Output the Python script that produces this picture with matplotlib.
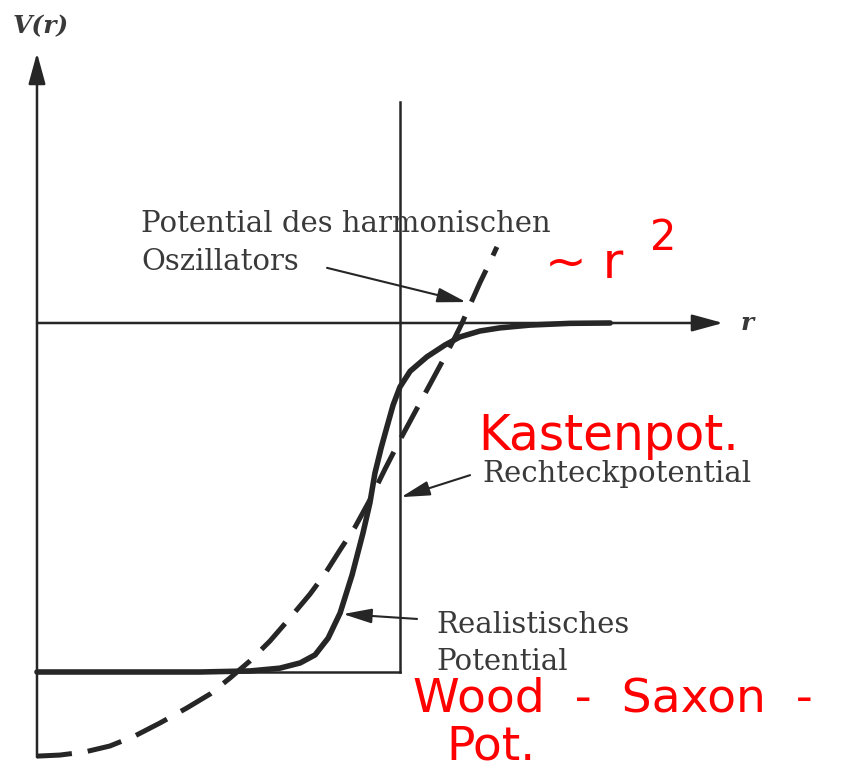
import matplotlib.pyplot as plt

# Radius in units of the well radius R, potential in units of the well depth V0
r_realistic = [0, 0.449, 0.587, 0.669, 0.725, 0.766, 0.802, 0.835, 0.868, 0.898,
               0.917, 0.931, 0.948, 0.964, 0.981, 1.000, 1.028, 1.074, 1.124, 1.165,
               1.220, 1.275, 1.358, 1.468, 1.579]
v_realistic = [-1.000, -1.000, -0.997, -0.989, -0.974, -0.951, -0.903, -0.831, -0.722, -0.602,
               -0.516, -0.430, -0.358, -0.298, -0.235, -0.183, -0.138, -0.097, -0.063, -0.040,
               -0.023, -0.014, -0.006, -0.001, 0.000]

r_harmonic = [0, 0.063, 0.132, 0.201, 0.270, 0.339, 0.413, 0.477, 0.532, 0.587,
              0.642, 0.697, 0.752, 0.793, 0.835, 0.876, 0.917, 0.959, 1.000, 1.055,
              1.110, 1.152, 1.171, 1.193, 1.220, 1.248, 1.267]
v_harmonic = [-1.241, -1.238, -1.229, -1.212, -1.183, -1.146, -1.103, -1.063, -1.017, -0.968,
              -0.911, -0.845, -0.777, -0.719, -0.650, -0.585, -0.507, -0.418, -0.335, -0.229,
              -0.123, -0.040, 0.000, 0.052, 0.115, 0.175, 0.218]

# square well: radius, depth and how far its wall line reaches up
well_radius = 1.0
well_depth = 1.0
well_wall_top = 0.633

# coordinate axes extents
r_axis_end = 1.890
v_axis_bottom = -1.244
v_axis_top = 0.774

ink = '#262626'
text_ink = '#3a3a3a'
pen = '#ff0000'
serif = 'DejaVu Serif'
hand = 'DejaVu Sans'

fig = plt.figure(figsize=(8.6, 7.73), dpi=100)
ax = fig.add_axes([0, 0, 1, 1])
ax.set_xlim(-0.1019, 2.2672)
ax.set_ylim(-1.2894, 0.9255)
ax.axis('off')

axis_arrow = dict(arrowstyle='-|>,head_length=0.95,head_width=0.26',
                  mutation_scale=20, color=ink, lw=1.8, shrinkA=0, shrinkB=0)
ax.annotate('', xy=(r_axis_end, 0), xytext=(0, 0), arrowprops=axis_arrow)
ax.annotate('', xy=(0, v_axis_top), xytext=(0, v_axis_bottom), arrowprops=axis_arrow)

# square well
ax.plot([0, well_radius], [-well_depth, -well_depth], color=ink, lw=1.8)
ax.plot([well_radius, well_radius], [-well_depth, well_wall_top], color=ink, lw=1.8)

# harmonic oscillator and realistic (Woods-Saxon) potential
ax.plot(r_harmonic, v_harmonic, color=ink, lw=3.6, ls=(0, (7, 3.2)),
        solid_capstyle='butt', dash_capstyle='butt', dash_joinstyle='round')
ax.plot(r_realistic, v_realistic, color=ink, lw=4.0,
        solid_capstyle='round', solid_joinstyle='round')

# axis labels
ax.text(0.011, 0.851, 'V(r)', family=serif, style='italic', weight='bold',
        fontsize=18, color=text_ink, ha='center', va='center')
ax.text(1.956, 0.0, 'r', family=serif, style='italic', weight='bold',
        fontsize=18, color=text_ink, ha='center', va='center')

# printed labels with pointers
label_kw = dict(family=serif, fontsize=21, color=text_ink, ha='left', va='baseline')
pointer = dict(arrowstyle='-|>,head_length=1.1,head_width=0.28',
               mutation_scale=16, color=ink, lw=1.5, shrinkA=0, shrinkB=0)

ax.text(0.287, 0.261, 'Potential des harmonischen', **label_kw)
ax.text(0.287, 0.152, 'Oszillators', **label_kw)
ax.annotate('', xy=(1.182, 0.060), xytext=(0.799, 0.158), arrowprops=pointer)

ax.text(1.226, -0.456, 'Rechteckpotential', **label_kw)
ax.annotate('', xy=(1.003, -0.499), xytext=(1.193, -0.436), arrowprops=pointer)

ax.text(1.099, -0.888, 'Realistisches', **label_kw)
ax.text(1.099, -0.994, 'Potential', **label_kw)
ax.annotate('', xy=(0.843, -0.834), xytext=(1.047, -0.848), arrowprops=pointer)

# handwritten notes
ax.text(1.399, 0.129, '~ r', family=hand, fontsize=36, color=pen, va='baseline')
ax.text(1.689, 0.209, '2', family=hand, fontsize=30, color=pen, va='baseline')
ax.text(1.215, -0.364, 'Kastenpot.', family=hand, fontsize=35, color=pen, va='baseline')
ax.text(1.036, -1.114, 'Wood  -  Saxon  -', family=hand, fontsize=34, color=pen,
        va='baseline')
ax.text(1.129, -1.252, 'Pot.', family=hand, fontsize=34, color=pen, va='baseline')

fig.savefig('out.png', dpi=100)
